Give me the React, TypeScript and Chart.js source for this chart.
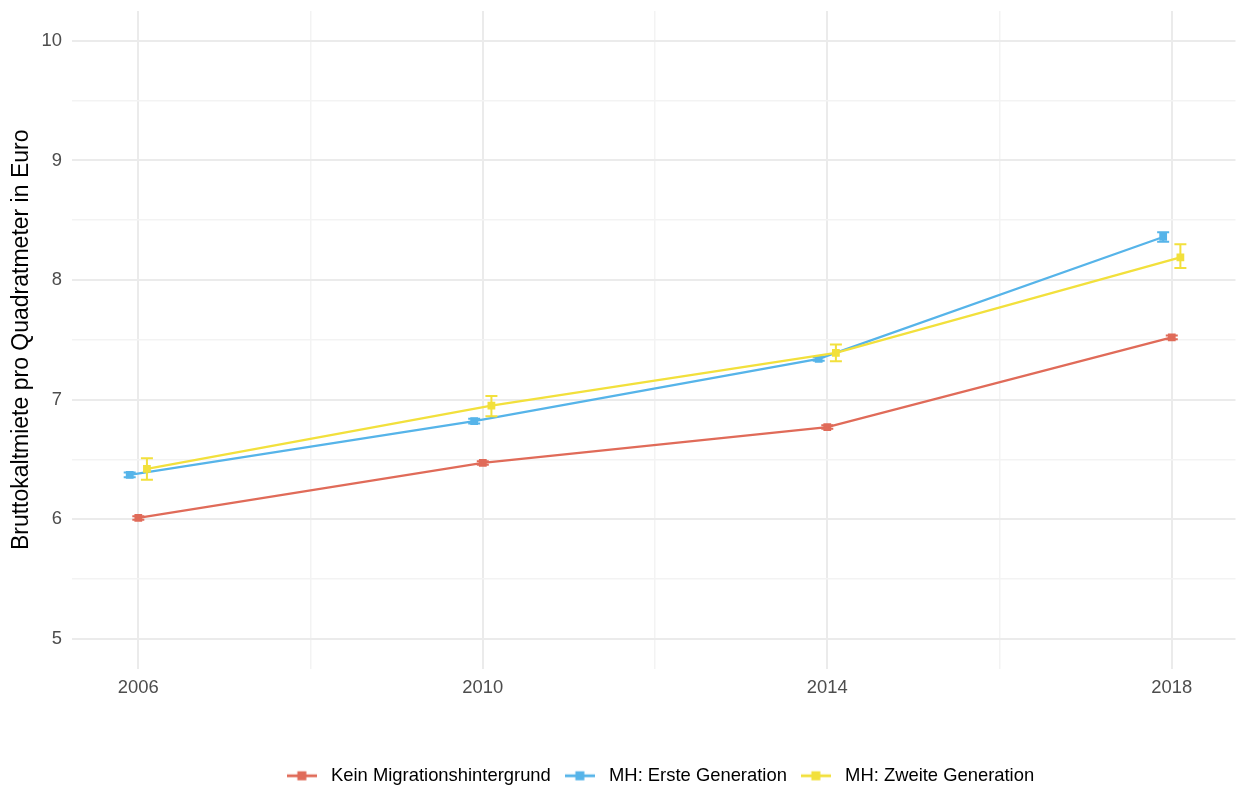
import React, { useEffect, useRef } from 'react';
import { Chart, registerables } from 'chart.js';

Chart.register(...registerables);

// ---- data ----
const years = [2006, 2010, 2014, 2018];
const seriesNames = ['Kein Migrationshintergrund', 'MH: Erste Generation', 'MH: Zweite Generation'];

const keinValues = [6.01, 6.47, 6.77, 7.52];
const keinLower = [5.995, 6.455, 6.755, 7.505];
const keinUpper = [6.025, 6.485, 6.785, 7.535];

const ersteValues = [6.37, 6.82, 7.34, 8.36];
const ersteLower = [6.35, 6.8, 7.325, 8.32];
const ersteUpper = [6.39, 6.84, 7.355, 8.4];

const zweiteValues = [6.42, 6.95, 7.39, 8.19];
const zweiteLower = [6.33, 6.86, 7.32, 8.1];
const zweiteUpper = [6.51, 7.03, 7.46, 8.3];

const yTickValues = [5, 5.5, 6, 6.5, 7, 7.5, 8, 8.5, 9, 9.5, 10];
const yTickLabels = ['5', '', '6', '', '7', '', '8', '', '9', '', '10'];
const xTickValues = [2006, 2008, 2010, 2012, 2014, 2016, 2018];
const xTickLabels = ['2006', '', '2010', '', '2014', '', '2018'];

// ---- style ----
const colors = ['#E06B59', '#56B4E9', '#F2E03C'];
const dodge = [0, -0.1, 0.1];
const FONT = '"Liberation Sans", Arial, sans-serif';

const errorBarPlugin = {
  id: 'errorBars',
  afterDatasetDraw(chart: any, args: any) {
    const ds: any = chart.data.datasets[args.index];
    if (!ds.errLow) return;
    const xs = chart.scales.x;
    const ys = chart.scales.y;
    const ctx = chart.ctx;
    ctx.save();
    ctx.strokeStyle = ds.borderColor;
    ctx.lineWidth = 2;
    ds.data.forEach((pt: any, i: number) => {
      const x = xs.getPixelForValue(pt.x);
      const yl = ys.getPixelForValue(ds.errLow[i]);
      const yh = ys.getPixelForValue(ds.errHigh[i]);
      const cap = 6;
      ctx.beginPath();
      ctx.moveTo(x, yl);
      ctx.lineTo(x, yh);
      ctx.moveTo(x - cap, yl);
      ctx.lineTo(x + cap, yl);
      ctx.moveTo(x - cap, yh);
      ctx.lineTo(x + cap, yh);
      ctx.stroke();
    });
    ctx.restore();
  },
};

const legendShiftPlugin = {
  id: 'legendShift',
  afterLayout(chart: any) {
    const lg = chart.legend;
    if (lg) {
      lg.left += 38;
      lg.right += 38;
    }
  },
};

function makeLegendImage(color: string): HTMLCanvasElement {
  const c = document.createElement('canvas');
  c.width = 30;
  c.height = 12;
  const g = c.getContext('2d')!;
  g.strokeStyle = color;
  g.lineWidth = 2.8;
  g.beginPath();
  g.moveTo(0, 6);
  g.lineTo(30, 6);
  g.stroke();
  g.fillStyle = color;
  g.fillRect(10.5, 1.5, 9, 9);
  return c;
}

export default function App() {
  const ref = useRef<HTMLCanvasElement | null>(null);

  useEffect(() => {
    if (!ref.current) return;
    const valueSets = [keinValues, ersteValues, zweiteValues];
    const lows = [keinLower, ersteLower, zweiteLower];
    const highs = [keinUpper, ersteUpper, zweiteUpper];
    const drawOrder = [2, 1, 0];
    const datasets = seriesNames.map((name, s) => ({
      label: name,
      data: years.map((yr, i) => ({ x: yr + dodge[s], y: valueSets[s][i] })),
      errLow: lows[s],
      errHigh: highs[s],
      borderColor: colors[s],
      backgroundColor: colors[s],
      borderWidth: 2.3,
      pointStyle: 'rect',
      pointRadius: 5.5,
      pointBorderWidth: 0,
      pointHoverRadius: 5.5,
      tension: 0,
      order: drawOrder[s],
    }));
    const legendImages = colors.map((c) => makeLegendImage(c));

    const chart = new Chart(ref.current, {
      type: 'line',
      data: { datasets: datasets as any },
      plugins: [errorBarPlugin, legendShiftPlugin],
      options: {
        animation: false,
        responsive: false,
        maintainAspectRatio: false,
        layout: { padding: { top: 11, right: 1, left: 0, bottom: 0 } },
        plugins: {
          tooltip: { enabled: false },
          legend: {
            position: 'bottom',
            labels: {
              usePointStyle: true,
              pointStyleWidth: 40,
              padding: 9,
              color: '#000000',
              font: { family: FONT, size: 18.4 },
              generateLabels: (ch: any) =>
                ch.data.datasets.map((ds: any, i: number) => ({
                  text: ds.label,
                  fillStyle: ds.borderColor,
                  strokeStyle: ds.borderColor,
                  lineWidth: 0,
                  pointStyle: legendImages[i],
                  hidden: false,
                  datasetIndex: i,
                  fontColor: '#000000',
                })),
            },
          },
        },
        scales: {
          x: {
            type: 'linear',
            min: 2005.23,
            max: 2018.74,
            afterBuildTicks: (s: any) => {
              s.ticks = xTickValues.map((v) => ({ value: v }));
            },
            afterFit: (s: any) => {
              s.height = 89;
              s.paddingLeft = 0;
              s.paddingRight = 0;
            },
            border: { display: false },
            grid: {
              drawTicks: false,
              color: (c: any) => ((c.tick && xTickLabels[xTickValues.indexOf(c.tick.value)]) ? '#EBEBEB' : '#F3F3F3'),
              lineWidth: (c: any) => ((c.tick && xTickLabels[xTickValues.indexOf(c.tick.value)]) ? 2 : 1.5),
            },
            ticks: {
              autoSkip: false,
              maxRotation: 0,
              padding: 8,
              color: '#4D4D4D',
              font: { family: FONT, size: 18.4 },
              callback: (v: any) => {
                const idx = xTickValues.indexOf(Number(v));
                return idx >= 0 ? xTickLabels[idx] : '';
              },
            },
          },
          y: {
            type: 'linear',
            min: 4.75,
            max: 10.25,
            afterBuildTicks: (s: any) => {
              s.ticks = yTickValues.map((v) => ({ value: v }));
            },
            afterFit: (s: any) => {
              s.width = 72;
              s.paddingTop = 0;
              s.paddingBottom = 0;
            },
            border: { display: false },
            title: {
              display: true,
              text: 'Bruttokaltmiete pro Quadratmeter in Euro',
              color: '#000000',
              font: { family: FONT, size: 23 },
              padding: { top: 8, bottom: 0 },
            },
            grid: {
              drawTicks: false,
              color: (c: any) => ((c.tick && yTickLabels[yTickValues.indexOf(c.tick.value)]) ? '#EBEBEB' : '#F3F3F3'),
              lineWidth: (c: any) => ((c.tick && yTickLabels[yTickValues.indexOf(c.tick.value)]) ? 2 : 1.5),
            },
            ticks: {
              autoSkip: false,
              padding: 10,
              color: '#4D4D4D',
              font: { family: FONT, size: 18.4 },
              callback: (v: any) => {
                const idx = yTickValues.indexOf(Number(v));
                return idx >= 0 ? yTickLabels[idx] : '';
              },
            },
          },
        },
      },
    });
    return () => chart.destroy();
  }, []);

  return (
    <div style={{ position: 'fixed', left: 0, top: 0, width: 1241, height: 795, background: '#ffffff' }}>
      <canvas ref={ref} width={1241} height={795} style={{ display: 'block' }} />
    </div>
  );
}
